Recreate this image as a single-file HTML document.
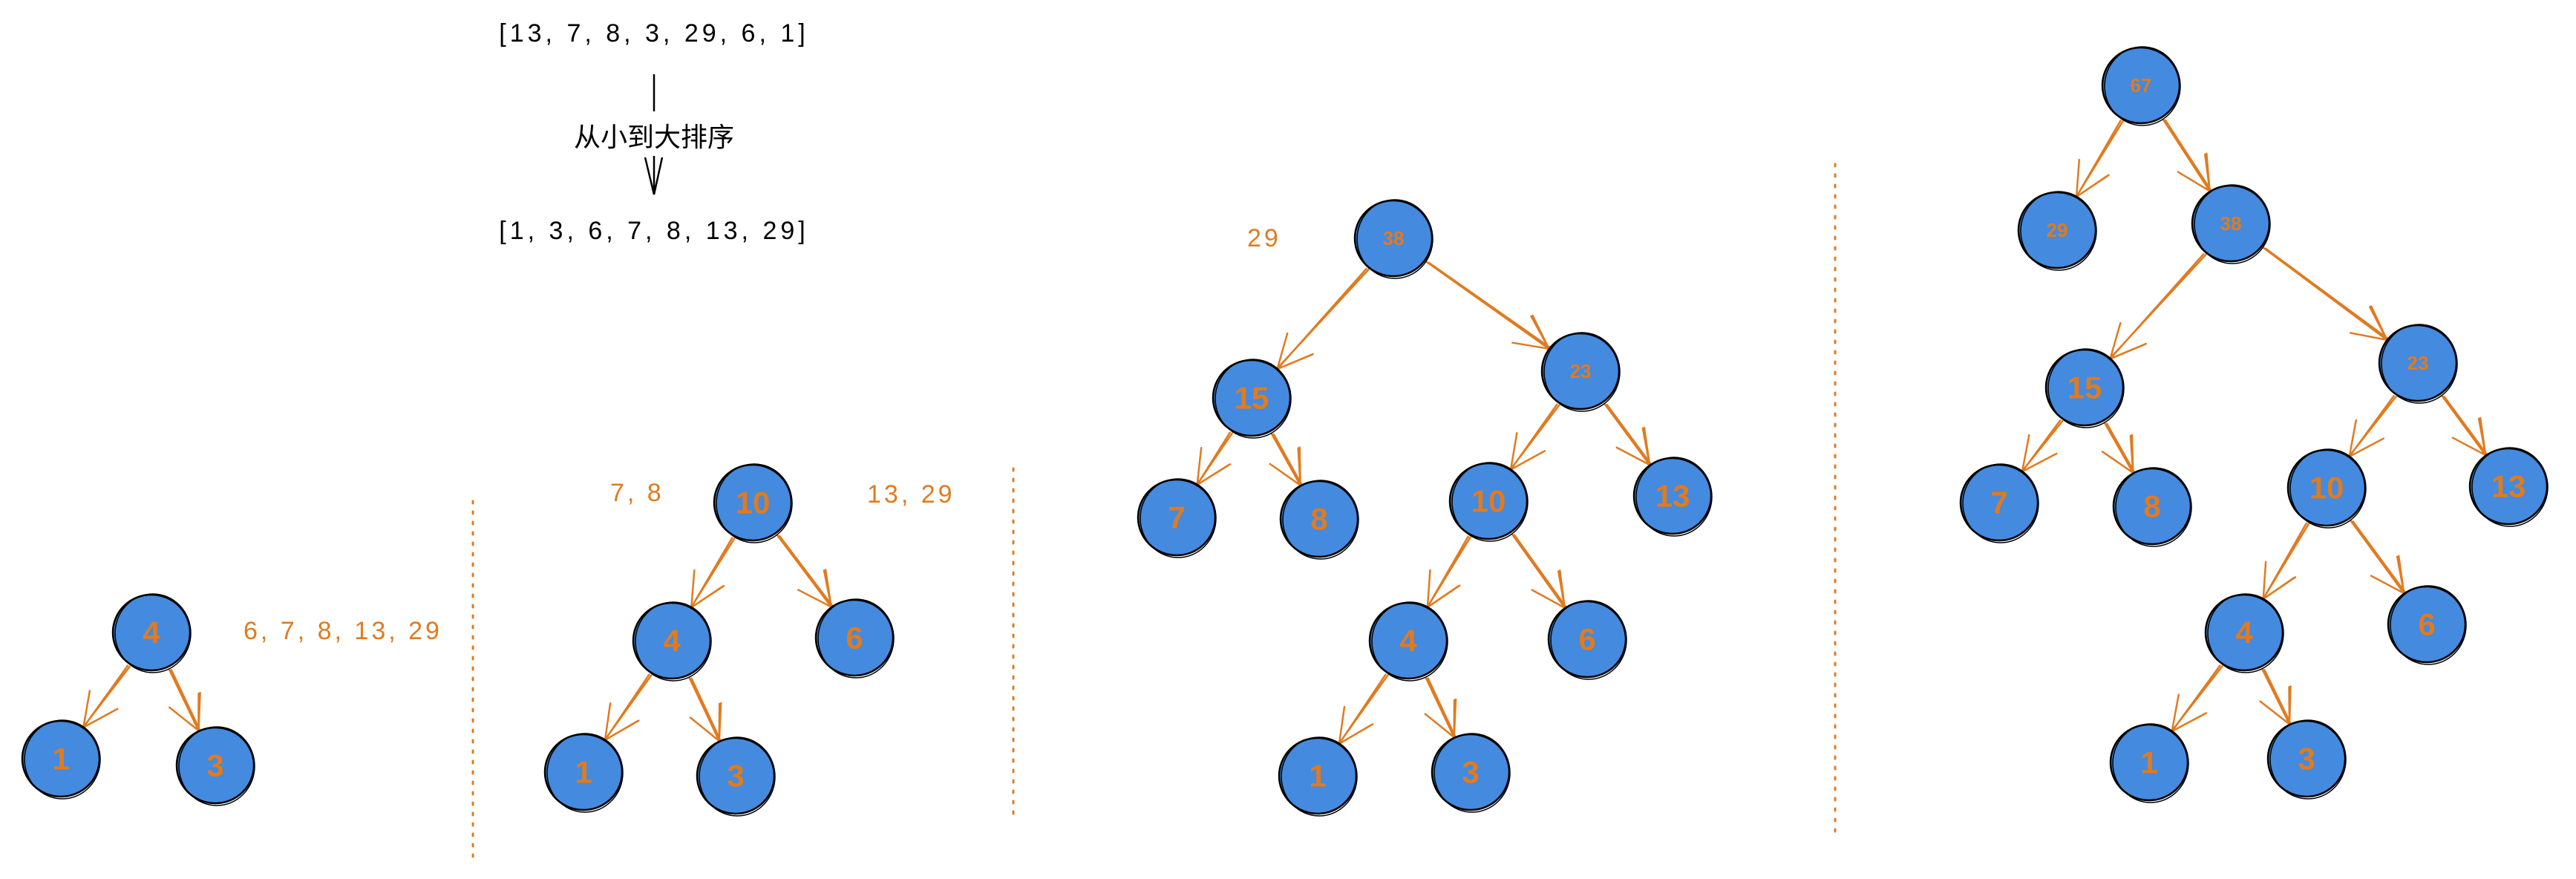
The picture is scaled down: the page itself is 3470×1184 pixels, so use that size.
<!DOCTYPE html>
<html><head><meta charset="utf-8"><style>
html,body{margin:0;padding:0;background:#fff;}
svg{display:block;}
.t{font-family:"Liberation Sans","Noto Sans CJK SC",sans-serif;}
.n{fill:#e07b20;font-family:"Liberation Sans",sans-serif;text-anchor:middle;dominant-baseline:central;font-weight:600;}
.o{fill:#e07b20;font-family:"Liberation Sans",sans-serif;font-size:34px;letter-spacing:4px;dominant-baseline:central;}
</style></head><body>
<svg id="s" width="3470" height="1184" viewBox="0 0 3470 1184" xmlns="http://www.w3.org/2000/svg">
<g id="edges" stroke="#e07b20" stroke-width="2.5" fill="none" stroke-linecap="round"></g>
<g id="nodes"></g>
<g class="t" font-size="34" text-anchor="middle" fill="#000">
<text x="881" y="56" letter-spacing="5">[13, 7, 8, 3, 29, 6, 1]</text>
<text x="881" y="197" font-size="36">从小到大排序</text>
<text x="881" y="322" letter-spacing="5">[1, 3, 6, 7, 8, 13, 29]</text>
</g>
<line x1="881" y1="100" x2="881" y2="150" stroke="#000" stroke-width="2.5"/>
<path d="M881 210 L881 262 M869 212 L881 262 L892 212" stroke="#000" stroke-width="2.5" fill="none"/>
<g stroke="#e07b20" stroke-width="3" stroke-dasharray="3 11" stroke-linecap="round">
<line x1="637" y1="675" x2="637" y2="1162"/>
<line x1="1365" y1="631" x2="1365" y2="1107"/>
<line x1="2472" y1="221" x2="2472" y2="1129"/>
</g>
<text class="o" x="328" y="850">6, 7, 8, 13, 29</text>
<text class="o" x="822" y="664">7, 8</text>
<text class="o" x="1168" y="666">13, 29</text>
<text class="o" x="1680" y="321" font-size="28">29</text>
<g id="labels">
<text class="n" x="204" y="852" font-size="42">4</text>
<text class="n" x="82" y="1022" font-size="42">1</text>
<text class="n" x="290" y="1031" font-size="42">3</text>
<text class="n" x="1014" y="677" font-size="42">10</text>
<text class="n" x="905" y="863" font-size="42">4</text>
<text class="n" x="1151" y="859" font-size="42">6</text>
<text class="n" x="786" y="1040" font-size="42">1</text>
<text class="n" x="991" y="1045" font-size="42">3</text>
<text class="n" x="1877" y="321" font-size="26">38</text>
<text class="n" x="1686" y="536" font-size="42">15</text>
<text class="n" x="2129" y="500" font-size="26">23</text>
<text class="n" x="1585" y="697" font-size="42">7</text>
<text class="n" x="1777" y="699" font-size="42">8</text>
<text class="n" x="2005" y="675" font-size="42">10</text>
<text class="n" x="2253" y="668" font-size="42">13</text>
<text class="n" x="1897" y="863" font-size="42">4</text>
<text class="n" x="2138" y="861" font-size="42">6</text>
<text class="n" x="1775" y="1045" font-size="42">1</text>
<text class="n" x="1981" y="1040" font-size="42">3</text>
<text class="n" x="2884" y="115" font-size="26">67</text>
<text class="n" x="2771" y="310" font-size="26">29</text>
<text class="n" x="3005" y="301" font-size="26">38</text>
<text class="n" x="2808" y="522" font-size="42">15</text>
<text class="n" x="3257" y="489" font-size="26">23</text>
<text class="n" x="2693" y="677" font-size="42">7</text>
<text class="n" x="2899" y="682" font-size="42">8</text>
<text class="n" x="3134" y="657" font-size="42">10</text>
<text class="n" x="3379" y="655" font-size="42">13</text>
<text class="n" x="3023" y="852" font-size="42">4</text>
<text class="n" x="3269" y="841" font-size="42">6</text>
<text class="n" x="2895" y="1027" font-size="42">1</text>
<text class="n" x="3107" y="1022" font-size="42">3</text>
</g>
</svg>
<script>
var P={
a4:[204,852],a1:[82,1022],a3:[290,1031],
b10:[1014,677],b4:[905,863],b6:[1151,859],b1:[786,1040],b3:[991,1045],
c38:[1877,321],c15:[1686,536],c23:[2129,500],c7:[1585,697],c8:[1777,699],c10:[2005,675],c13:[2253,668],c4:[1897,863],c6:[2138,861],c1:[1775,1045],c3:[1981,1040],
d67:[2884,115],d29:[2771,310],d38:[3005,301],d15:[2808,522],d23:[3257,489],d7:[2693,677],d8:[2899,682],d10:[3134,657],d13:[3379,655],d4:[3023,852],d6:[3269,841],d1:[2895,1027],d3:[3107,1022]};
var E=[["a4","a1"],["a4","a3"],["b10","b4"],["b10","b6"],["b4","b1"],["b4","b3"],
["c38","c15"],["c38","c23"],["c15","c7"],["c15","c8"],["c23","c10"],["c23","c13"],["c10","c4"],["c10","c6"],["c4","c1"],["c4","c3"],
["d67","d29"],["d67","d38"],["d38","d15"],["d38","d23"],["d15","d7"],["d15","d8"],["d23","d10"],["d23","d13"],["d10","d4"],["d10","d6"],["d4","d1"],["d4","d3"]];
var R=52,NS="http://www.w3.org/2000/svg";
var eg=document.getElementById("edges"),ng=document.getElementById("nodes");
function el(n,a,p){var e=document.createElementNS(NS,n);for(var k in a)e.setAttribute(k,a[k]);p.appendChild(e);}
E.forEach(function(e){var a=P[e[0]],b=P[e[1]];var dx=b[0]-a[0],dy=b[1]-a[1],L=Math.hypot(dx,dy),ux=dx/L,uy=dy/L;
var x1=a[0]+ux*(R+3),y1=a[1]+uy*(R+3),x2=b[0]-ux*(R),y2=b[1]-uy*(R);
var h=50,an=0.45,ca=Math.cos(an),sa=Math.sin(an);
var hx1=x2-h*(ux*ca-uy*sa),hy1=y2-h*(uy*ca+ux*sa),hx2=x2-h*(ux*ca+uy*sa),hy2=y2-h*(uy*ca-ux*sa);
el("path",{d:"M"+x1+" "+y1+"L"+x2+" "+y2+"M"+(x1+3)+" "+(y1+1)+"L"+(x2+1)+" "+(y2-2)+"M"+hx1+" "+hy1+"L"+x2+" "+y2+"L"+hx2+" "+hy2+"M"+(hx1+2)+" "+(hy1-1)+"L"+x2+" "+y2},eg);});
for(var k in P){var p=P[k];
el("ellipse",{cx:p[0],cy:p[1],rx:R,ry:R-1,fill:"#448ade",stroke:"#000","stroke-width":2.5},ng);
el("ellipse",{cx:p[0]+2,cy:p[1]+1,rx:R-1,ry:R+1,fill:"none",stroke:"#000","stroke-width":1.5},ng);}
</script>
</body></html>
